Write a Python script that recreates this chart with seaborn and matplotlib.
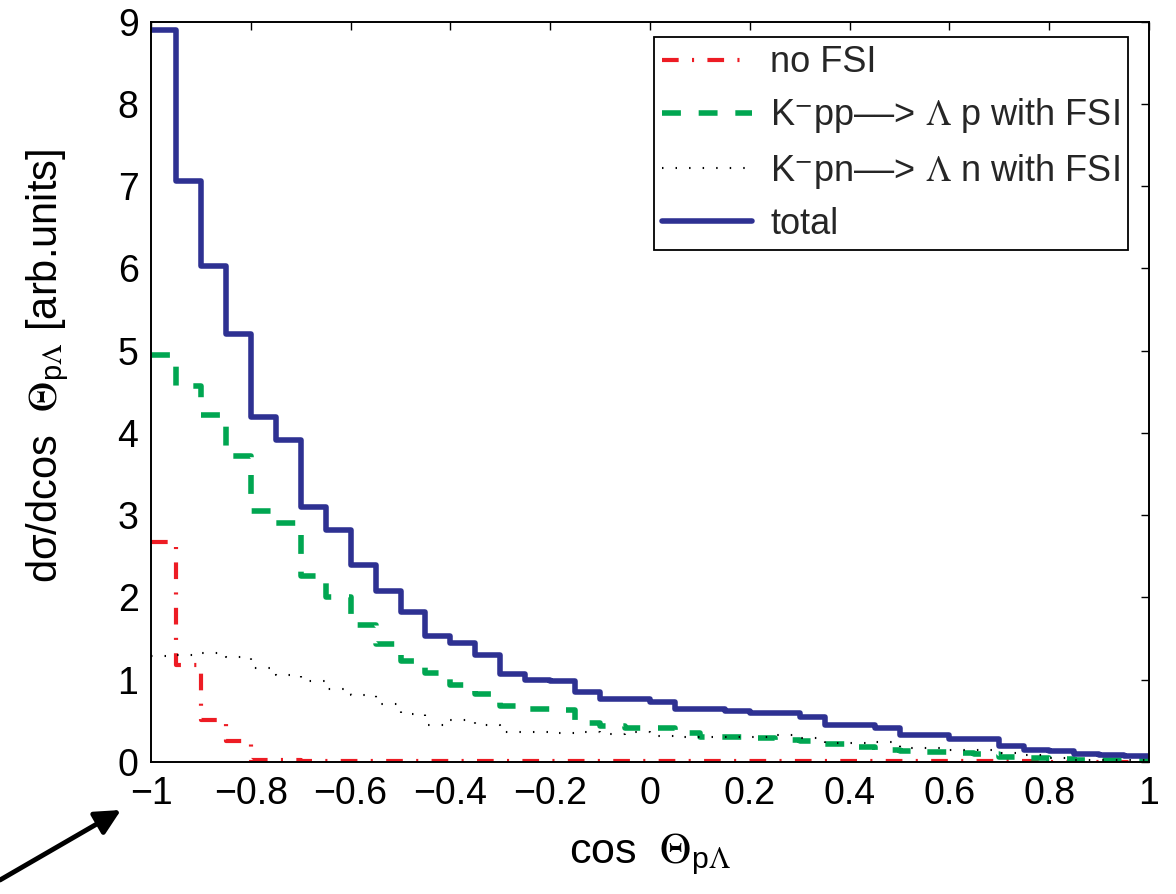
import numpy as np
import pandas as pd
import matplotlib
matplotlib.use("Agg")
import matplotlib.pyplot as plt
import seaborn as sns

# ---------------- data ----------------
bin_edges = [round(v, 3) for v in np.linspace(-1.0, 1.0, 41)]

no_fsi = [2.67, 1.18, 0.51, 0.25, 0.03, 0.02, 0.01, 0.01, 0.01, 0.01,
          0.01, 0.01, 0.01, 0.01, 0.01, 0.01, 0.01, 0.01, 0.01, 0.01,
          0.01, 0.01, 0.01, 0.01, 0.01, 0.01, 0.01, 0.01, 0.01, 0.01,
          0.01, 0.01, 0.01, 0.01, 0.01, 0.01, 0.005, 0.005, 0.005, 0.005]

pp_fsi = [4.95, 4.57, 4.22, 3.72, 3.05, 2.91, 2.26, 2.01, 1.67, 1.43,
          1.23, 1.08, 0.94, 0.83, 0.68, 0.64, 0.63, 0.47, 0.44, 0.41,
          0.41, 0.35, 0.31, 0.31, 0.29, 0.27, 0.26, 0.22, 0.18, 0.15,
          0.13, 0.12, 0.11, 0.10, 0.06, 0.05, 0.04, 0.03, 0.03, 0.02]

pn_fsi = [1.29, 1.30, 1.32, 1.28, 1.14, 1.06, 0.98, 0.89, 0.82, 0.70,
          0.58, 0.45, 0.51, 0.45, 0.37, 0.36, 0.35, 0.36, 0.34, 0.37,
          0.32, 0.31, 0.31, 0.31, 0.31, 0.33, 0.29, 0.23, 0.23, 0.24,
          0.17, 0.17, 0.15, 0.15, 0.11, 0.08, 0.05, 0.03, 0.02, 0.02]

total = [8.90, 7.06, 6.03, 5.20, 4.19, 3.91, 3.10, 2.82, 2.40, 2.08,
         1.82, 1.53, 1.45, 1.30, 1.07, 1.00, 0.98, 0.85, 0.77, 0.77,
         0.73, 0.65, 0.64, 0.62, 0.60, 0.60, 0.55, 0.45, 0.45, 0.41,
         0.33, 0.33, 0.28, 0.28, 0.20, 0.15, 0.13, 0.10, 0.08, 0.07]

series_labels = ["no FSI",
                 r"K$^{-}$pp––> $\Lambda$ p with FSI",
                 r"K$^{-}$pn––> $\Lambda$ n with FSI",
                 "total"]

x_ticks = [-1, -0.8, -0.6, -0.4, -0.2, 0, 0.2, 0.4, 0.6, 0.8, 1]
x_tick_labels = ["−1", "−0.8", "−0.6", "−0.4", "−0.2", "0", "0.2", "0.4", "0.6", "0.8", "1"]
y_ticks = [0, 1, 2, 3, 4, 5, 6, 7, 8, 9]

# ---------------- style ----------------
sns.set_theme(style="white")
plt.rcParams["font.family"] = ["Liberation Sans", "DejaVu Sans"]
plt.rcParams["mathtext.fontset"] = "stix"

fig = plt.figure(figsize=(11.76, 8.94), dpi=100)
W, H = 1176, 894
ax = fig.add_axes([151 / W, 1 - 762 / H, (1149 - 151) / W, (762 - 21.7) / H])

edges_arr = np.array(bin_edges)
centers = (edges_arr[:-1] + edges_arr[1:]) / 2
styles = [
    dict(color="#ED1C24", linewidth=3.0, linestyle=(0, (4.0, 3.2, 0.5, 3.2))),
    dict(color="#00A651", linewidth=4.0, linestyle=(0, (3.4, 3.2))),
    dict(color="black", linewidth=1.5, linestyle=(0, (0.7, 5.8))),
    dict(color="#2E3192", linewidth=4.0, linestyle="-"),
]
for vals, lab, st in zip([no_fsi, pp_fsi, pn_fsi, total], series_labels, styles):
    df = pd.DataFrame({"x": centers, "w": vals})
    sns.histplot(data=df, x="x", weights="w", bins=bin_edges, element="step",
                 fill=False, label=lab, ax=ax, **st)

ax.set_xlim(-1, 1)
ax.set_ylim(0, 9)
ax.set_xticks(x_ticks)
ax.set_xticklabels(x_tick_labels)
ax.set_yticks(y_ticks)
ax.tick_params(direction="in", top=True, right=True, length=6, width=1.0,
               labelsize=27, colors="black")
ax.tick_params(axis="x", pad=10)
ax.tick_params(axis="y", pad=9)
for s in ax.spines.values():
    s.set_visible(True)
    s.set_color("black")
    s.set_linewidth(1.4)

ax.set_xlabel(r"cos  $\Theta_{\mathregular{p}\Lambda}$", fontsize=31, labelpad=14, color="black")
ax.set_ylabel(r"dσ/dcos  $\Theta_{\mathregular{p}\Lambda}$ [arb.units]", fontsize=30,
              color="black")
ax.yaxis.set_label_coords(-0.08, 0.535)

leg = ax.legend(loc="upper right", bbox_to_anchor=(0.979, 0.979),
                fontsize=26, frameon=True, fancybox=False,
                framealpha=1, edgecolor="black", handlelength=2.5,
                handletextpad=0.5, labelspacing=0.45, borderpad=0.22,
                borderaxespad=0.0)
leg.get_frame().set_linewidth(1.3)

ax.annotate("", xy=(121, H - 810), xytext=(0, H - 880),
            xycoords="figure pixels", textcoords="figure pixels",
            annotation_clip=False,
            arrowprops=dict(arrowstyle="-|>", color="black", lw=3.5,
                            mutation_scale=38, shrinkA=0, shrinkB=0))

fig.savefig("out.png", dpi=100)
